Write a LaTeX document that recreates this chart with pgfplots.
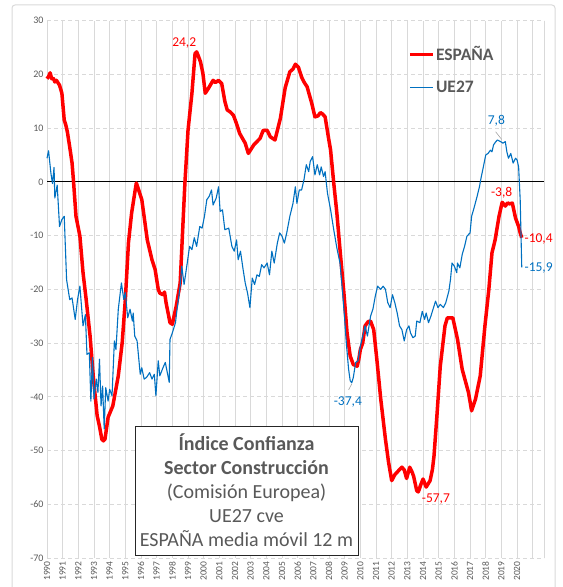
\documentclass[border=0pt]{standalone}
\usepackage{fontspec}
\setmainfont{Carlito}
\usepackage{pgfplots}
\pgfplotsset{compat=1.18}
\definecolor{espred}{HTML}{FF0000}
\definecolor{ueblue}{HTML}{0070C0}
\definecolor{textgray}{HTML}{595959}
\definecolor{gridgray}{HTML}{D9D9D9}
\begin{document}
\begin{tikzpicture}
\useasboundingbox (0,0) rectangle (563bp,587bp);
\draw[gray!30, line width=1bp, rounded corners=3bp] (12bp,-10bp) rectangle (555bp,582bp);
\begin{axis}[
  at={(47bp,29bp)}, anchor=south west,
  scale only axis, width=497bp, height=537.3bp,
  xmin=1990, xmax=2021.72, ymin=-70, ymax=30,
  clip=false,
  axis line style={draw=none},
  major tick style={draw=none},
  xtick={1990,...,2020},
  ytick={-70,-60,...,30},
  extra x ticks={2021,2021.72}, extra x tick labels={},
  extra x tick style={grid=major, major tick style={draw=none}},
  xmajorgrids, ymajorgrids,
  x grid style={color=gridgray, line width=0.9bp},
  y grid style={color=gridgray, line width=0.9bp, dash pattern=on 4bp off 3bp},
  /pgf/number format/assume math mode=true,
  yticklabel style={font=\fontsize{10bp}{12bp}\selectfont, text=textgray},
  xticklabel style={rotate=90, anchor=east, font=\fontsize{9.5bp}{11bp}\selectfont, text=textgray, /pgf/number format/1000 sep={}},
  legend style={at={(rel axis cs:0.72,0.959)}, anchor=north west, draw=none, fill=none,
    font=\bfseries\fontsize{17.5bp}{20bp}\selectfont, text=textgray, row sep=16bp,
    nodes={inner sep=1.5bp}},
  legend cell align=left,
  legend image code/.code={\draw[#1] (0bp,0bp) -- (23bp,0bp);},
]
\addplot[black, line width=1.1bp, forget plot] coordinates {(1990,0)(2021.72,0)};
\addplot[espred, line width=3.5bp, line join=round] coordinates {
(1990.0,19.2)(1990.1,19.6)(1990.2,20.3)(1990.3,19.2)(1990.4,19.3)(1990.5,18.6)(1990.6,18.9)(1990.8,18.0)
(1990.95,16.5)(1991.1,11.5)(1991.2,10.6)(1991.3,9.3)(1991.45,6.5)(1991.6,3.5)(1991.7,-0.2)(1991.85,-6.4)
(1992.1,-10.1)(1992.3,-16.9)(1992.5,-21.9)(1992.75,-28.7)(1992.95,-36.1)(1993.2,-43.5)(1993.35,-45.5)
(1993.5,-47.9)(1993.6,-48.2)(1993.7,-47.9)(1993.9,-43.8)(1994.2,-41.7)(1994.55,-36.1)(1994.8,-29.9)
(1995.0,-21.9)(1995.2,-11.3)(1995.4,-5.8)(1995.55,-3.0)(1995.7,-0.2)(1995.85,-1.5)(1996.05,-3.3)
(1996.2,-6.5)(1996.4,-10.8)(1996.7,-14.5)(1996.9,-16.3)(1997.1,-20.0)(1997.2,-20.7)(1997.4,-21.0)
(1997.5,-20.5)(1997.6,-22.5)(1997.85,-26.2)(1998.0,-26.5)(1998.25,-23.1)(1998.5,-18.8)(1998.7,-6.4)
(1998.8,-0.3)(1999.0,9.6)(1999.25,16.5)(1999.45,23.9)(1999.55,24.2)(1999.65,23.5)(1999.8,22.3)
(1999.95,20.2)(2000.1,16.5)(2000.3,17.4)(2000.6,18.9)(2000.75,18.5)(2000.95,18.9)(2001.15,18.3)
(2001.35,15.0)(2001.5,13.4)(2001.7,13.0)(2001.9,12.4)(2002.1,10.8)(2002.3,9.0)(2002.65,7.2)
(2002.85,5.3)(2003.2,6.9)(2003.4,7.5)(2003.6,8.1)(2003.8,9.6)(2004.05,9.6)(2004.25,8.4)(2004.55,7.8)
(2004.9,11.9)(2005.2,17.5)(2005.5,20.5)(2005.7,21.0)(2005.85,21.9)(2006.05,21.3)(2006.25,19.5)
(2006.4,18.6)(2006.6,17.7)(2006.9,14.6)(2007.1,12.1)(2007.3,12.3)(2007.45,12.9)(2007.6,12.6)
(2007.75,12.1)(2007.95,8.5)(2008.1,5.9)(2008.3,-0.2)(2008.5,-5.8)(2008.7,-12.6)(2008.95,-20.7)
(2009.15,-28.1)(2009.35,-32.4)(2009.55,-34.0)(2009.8,-34.3)(2009.9,-33.0)(2010.0,-31.2)(2010.15,-30.0)
(2010.3,-26.8)(2010.5,-26.0)(2010.65,-25.9)(2010.85,-27.5)(2011.05,-33.0)(2011.3,-40.4)(2011.6,-47.9)
(2011.8,-52.2)(2012.0,-55.6)(2012.2,-54.5)(2012.45,-53.7)(2012.65,-53.1)(2012.8,-53.6)(2012.95,-55.2)
(2013.15,-53.1)(2013.3,-54.0)(2013.4,-54.8)(2013.6,-57.5)(2013.7,-57.7)(2013.85,-56.4)(2014.0,-55.3)
(2014.2,-56.8)(2014.45,-55.6)(2014.6,-53.5)(2014.7,-51.0)(2014.9,-42.9)(2015.1,-34.3)(2015.4,-26.8)
(2015.55,-25.3)(2015.9,-25.3)(2016.2,-29.3)(2016.5,-34.9)(2016.9,-39.2)(2017.1,-42.6)(2017.35,-40.4)
(2017.65,-36.1)(2017.95,-26.8)(2018.2,-20.0)(2018.4,-13.2)(2018.6,-10.8)(2018.85,-6.4)(2019.05,-3.8)
(2019.25,-4.5)(2019.4,-3.9)(2019.5,-4.1)(2019.7,-3.95)(2019.9,-6.7)(2020.1,-8.3)(2020.2,-9.5)(2020.3,-10.4)
};
\addlegendentry{ESPAÑA}
\addplot[ueblue, line width=1.1bp, line join=round] coordinates {
(1990.0,4.4)(1990.1,5.8)(1990.25,1.6)(1990.35,-0.3)(1990.45,2.7)(1990.5,-3.0)(1990.65,-0.6)(1990.8,-8.3)
(1990.95,-7.0)(1991.1,-6.4)(1991.25,-18.2)(1991.45,-21.9)(1991.6,-21.6)(1991.8,-25.6)(1991.95,-21.9)
(1992.1,-19.4)(1992.3,-26.8)(1992.45,-24.7)(1992.55,-32.1)(1992.7,-31.8)(1992.8,-40.8)(1992.9,-32.7)
(1993.0,-40.4)(1993.15,-36.7)(1993.25,-39.2)(1993.35,-33.0)(1993.45,-41.7)(1993.55,-38.0)(1993.65,-46.0)
(1993.75,-38.3)(1993.9,-40.8)(1994.0,-38.6)(1994.15,-39.8)(1994.3,-29.6)(1994.4,-31.2)(1994.55,-23.7)
(1994.75,-18.8)(1994.9,-21.9)(1995.0,-20.6)(1995.15,-25.3)(1995.3,-23.7)(1995.45,-25.9)(1995.5,-24.4)
(1995.6,-28.7)(1995.75,-29.6)(1995.95,-35.8)(1996.05,-34.6)(1996.2,-36.7)(1996.35,-36.4)(1996.55,-35.5)
(1996.7,-36.7)(1996.85,-35.8)(1996.95,-39.8)(1997.1,-33.3)(1997.2,-36.1)(1997.4,-34.6)(1997.55,-33.6)
(1997.7,-35.8)(1997.8,-37.3)(1997.85,-29.3)(1998.0,-28.1)(1998.2,-26.2)(1998.3,-23.7)(1998.5,-19.4)
(1998.6,-15.7)(1998.75,-19.1)(1998.95,-15.1)(1999.1,-12.0)(1999.25,-12.6)(1999.4,-10.4)(1999.55,-12.0)
(1999.75,-8.3)(1999.9,-8.6)(2000.05,-6.4)(2000.2,-3.3)(2000.35,-2.7)(2000.5,-1.5)(2000.6,-4.3)
(2000.8,-3.0)(2000.95,-0.9)(2001.05,-5.5)(2001.2,-5.2)(2001.35,-8.9)(2001.6,-8.6)(2001.8,-12.0)
(2001.95,-12.9)(2002.1,-10.8)(2002.2,-14.5)(2002.35,-12.9)(2002.5,-16.0)(2002.65,-18.8)(2002.8,-20.7)
(2002.95,-23.4)(2003.1,-17.9)(2003.25,-19.1)(2003.4,-17.3)(2003.55,-17.6)(2003.7,-15.4)(2003.85,-16.0)
(2004.05,-15.1)(2004.2,-17.3)(2004.35,-12.9)(2004.5,-15.1)(2004.7,-11.4)(2004.85,-9.5)(2005.0,-10.1)
(2005.15,-11.4)(2005.3,-9.5)(2005.5,-6.4)(2005.7,-4.0)(2005.85,-0.9)(2005.95,-4.0)(2006.1,-1.5)
(2006.25,-1.5)(2006.4,0.4)(2006.55,3.2)(2006.7,1.9)(2006.8,3.8)(2006.95,4.7)(2007.1,1.3)(2007.25,3.2)
(2007.4,1.3)(2007.5,2.8)(2007.65,1.0)(2007.75,1.9)(2007.9,-2.1)(2008.1,-5.2)(2008.3,-8.9)(2008.5,-12.3)
(2008.7,-15.1)(2008.85,-20.0)(2009.0,-25.6)(2009.1,-29.9)(2009.25,-34.9)(2009.35,-37.0)(2009.45,-37.4)
(2009.55,-36.4)(2009.7,-33.6)(2009.85,-33.3)(2010.0,-30.6)(2010.15,-28.7)(2010.3,-26.8)(2010.45,-28.7)
(2010.65,-25.0)(2010.8,-23.7)(2010.95,-21.3)(2011.1,-19.4)(2011.3,-20.0)(2011.45,-19.4)(2011.6,-20.0)
(2011.75,-22.5)(2011.9,-23.4)(2012.05,-21.0)(2012.2,-22.5)(2012.35,-24.4)(2012.5,-26.8)(2012.65,-27.5)
(2012.8,-29.6)(2012.95,-27.5)(2013.1,-26.8)(2013.2,-28.1)(2013.35,-29.0)(2013.5,-28.7)(2013.6,-25.9)
(2013.8,-26.2)(2013.95,-24.1)(2014.1,-25.6)(2014.2,-24.4)(2014.35,-26.2)(2014.5,-25.0)(2014.7,-23.1)
(2014.8,-22.2)(2014.95,-23.4)(2015.1,-22.8)(2015.3,-23.4)(2015.45,-22.5)(2015.65,-20.3)(2015.75,-18.2)
(2015.85,-15.1)(2016.0,-15.7)(2016.15,-16.9)(2016.2,-15.1)(2016.35,-16.0)(2016.5,-13.5)(2016.65,-12.0)
(2016.8,-10.1)(2017.0,-9.5)(2017.1,-6.4)(2017.25,-4.9)(2017.45,-2.7)(2017.6,-0.9)(2017.7,0.7)(2017.85,2.8)
(2018.0,5.0)(2018.15,5.3)(2018.3,5.9)(2018.4,5.6)(2018.5,6.9)(2018.65,7.5)(2018.75,7.8)(2018.95,7.5)
(2019.1,7.2)(2019.25,7.5)(2019.35,5.6)(2019.45,4.4)(2019.6,5.3)(2019.75,3.5)(2019.9,4.4)(2020.0,4.1)
(2020.1,2.8)(2020.2,-3.3)(2020.3,-15.9)
};
\addlegendentry{UE27}
\begin{scope}[font=\fontsize{13.5bp}{16bp}\selectfont]
\node[text=espred] at (axis cs:1998.76,25.85) {24,2};
\node[text=ueblue] at (axis cs:2018.68,11.33) {7,8};
\draw[gray!70, line width=0.6bp] (axis cs:2018.63,9.34) -- (axis cs:2019.02,7.9);
\node[text=espred] at (axis cs:2019.02,-2.0) {-3,8};
\node[text=espred, anchor=west, inner sep=0pt] at (axis cs:2020.47,-10.68) {-10,4};
\node[text=ueblue, anchor=west, inner sep=0pt] at (axis cs:2020.47,-15.97) {-15,9};
\node[text=ueblue] at (axis cs:2009.2,-40.9) {-37,4};
\draw[gray!70, line width=0.6bp] (axis cs:2009.25,-38.7) -- (axis cs:2009.45,-37.6);
\node[text=espred] at (axis cs:2014.82,-59.0) {-57,7};
\end{scope}
\end{axis}
\node[draw=black!85, line width=0.8bp, fill=white, align=center, text=textgray,
  font=\fontsize{20bp}{24bp}\selectfont, inner sep=1bp,
  minimum width=223bp, minimum height=129bp] at (246.5bp,96.5bp)
  {\textbf{Índice Confianza}\\ \textbf{Sector Construcción}\\ (Comisión Europea)\\ UE27 cve\\ ESPAÑA media móvil 12 m};
\end{tikzpicture}
\end{document}
